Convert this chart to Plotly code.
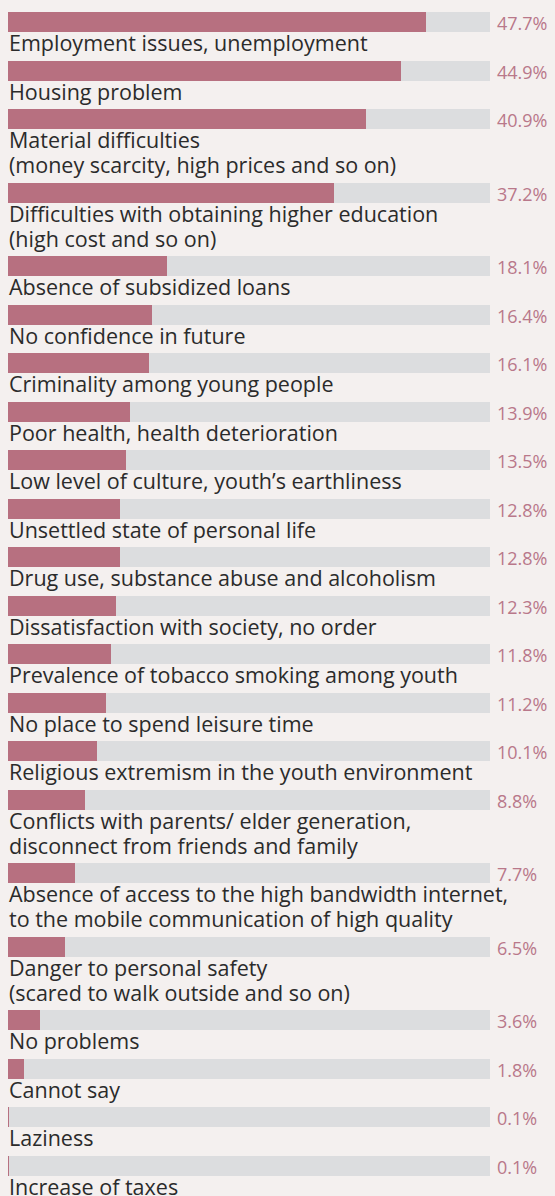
import plotly.graph_objects as go

categories = [
    "Employment issues, unemployment",
    "Housing problem",
    "Material difficulties<br>(money scarcity, high prices and so on)",
    "Difficulties with obtaining higher education<br>(high cost and so on)",
    "Absence of subsidized loans",
    "No confidence in future",
    "Criminality among young people",
    "Poor health, health deterioration",
    "Low level of culture, youth’s earthliness",
    "Unsettled state of personal life",
    "Drug use, substance abuse and alcoholism",
    "Dissatisfaction with society, no order",
    "Prevalence of tobacco smoking among youth",
    "No place to spend leisure time",
    "Religious extremism in the youth environment",
    "Conflicts with parents/ elder generation,<br>disconnect from friends and family",
    "Absence of access to the high bandwidth internet,<br>to the mobile communication of high quality",
    "Danger to personal safety<br>(scared to walk outside and so on)",
    "No problems",
    "Cannot say",
    "Laziness",
    "Increase of taxes",
]
values = [47.7, 44.9, 40.9, 37.2, 18.1, 16.4, 16.1, 13.9, 13.5, 12.8, 12.8,
          12.3, 11.8, 11.2, 10.1, 8.8, 7.7, 6.5, 3.6, 1.8, 0.1, 0.1]
value_labels = ["47.7%", "44.9%", "40.9%", "37.2%", "18.1%", "16.4%", "16.1%",
                "13.9%", "13.5%", "12.8%", "12.8%", "12.3%", "11.8%", "11.2%",
                "10.1%", "8.8%", "7.7%", "6.5%", "3.6%", "1.8%", "0.1%", "0.1%"]
scale_max = 55

W, H = 555, 1196
BG = "#f4f0ef"
ROSE = "#b77080"
GREY = "#dcdddf"
TEXT = "#2b2b2b"
VAL = "#b9788a"
FONT = "Open Sans, sans-serif"

# layout: vertical positions derived from label line counts
bar_h = 20
row = 48.5
line_h = 25
tops = []
y = 12
for c in categories:
    tops.append(y)
    y += row + line_h * c.count("<br>")
centers = [t + bar_h / 2 for t in tops]

# x range so that 0 -> px 8 and scale_max -> px 490
x0_px, x1_px = 8, 490
u = (x1_px - x0_px) / scale_max
xr = [-x0_px / u, scale_max + (W - x1_px) / u]

fig = go.Figure()
fig.add_bar(y=centers, x=[scale_max] * len(values), orientation="h",
            width=bar_h, marker=dict(color=GREY, line=dict(width=0)),
            hoverinfo="skip")
fig.add_bar(y=centers, x=values, orientation="h", width=bar_h,
            marker=dict(color=ROSE, line=dict(width=0)),
            hovertext=categories, hoverinfo="x")

ann = []
for c, t, ctr, vl in zip(categories, tops, centers, value_labels):
    for i, line in enumerate(c.split("<br>")):
        ann.append(dict(x=0, y=t + bar_h - 6 + i * line_h, xref="x", yref="y",
                        text=line, xanchor="left", yanchor="top", align="left",
                        showarrow=False, xshift=-1,
                        font=dict(family=FONT, size=21.5, color=TEXT)))
    ann.append(dict(x=scale_max, y=ctr, xref="x", yref="y", text=vl,
                    xanchor="left", yanchor="middle", showarrow=False,
                    xshift=5, yshift=-1,
                    font=dict(family=FONT, size=18, color=VAL)))

fig.update_layout(
    width=W, height=H, margin=dict(l=0, r=0, t=0, b=0),
    paper_bgcolor=BG, plot_bgcolor=BG, barmode="overlay", bargap=0,
    showlegend=False, annotations=ann,
    xaxis=dict(range=xr, visible=False, fixedrange=True),
    yaxis=dict(range=[H, 0], visible=False, fixedrange=True),
)
fig.write_html("out.html", config={"displayModeBar": False},
               post_script="document.body.style.margin='0';"
                           "document.body.style.background='%s';" % BG)
